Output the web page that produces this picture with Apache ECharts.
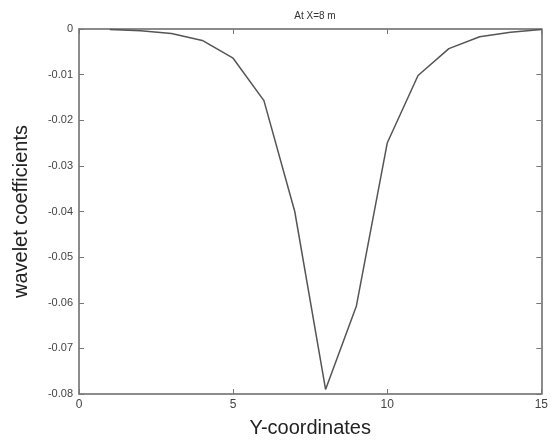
<!DOCTYPE html>
<html>
<head>
<meta charset="utf-8">
<script src="https://cdn.jsdelivr.net/npm/echarts@6/dist/echarts.min.js"></script>
<style>html,body{margin:0;padding:0;background:#fff;}#c{width:551px;height:443px;}</style>
</head>
<body>
<div id="c"></div>
<script>
var yCoords = [1, 2, 3, 4, 5, 6, 7, 8, 9, 10, 11, 12, 13, 14, 15];
var coeffs = [-0.0001, -0.0004, -0.001, -0.0025, -0.0064, -0.0157, -0.040, -0.079, -0.0607, -0.025, -0.0102, -0.0043, -0.0017, -0.0007, -0.0001];
var titleText = 'At X=8 m';
var xName = 'Y-coordinates';
var yName = 'wavelet coefficients';

var chart = echarts.init(document.getElementById('c'));
var axisLine = {show: true, onZero: false, lineStyle: {color: '#666', width: 1.5}};
var tick = {show: true, inside: true, length: 5, lineStyle: {color: '#777', width: 1}};
var font = 'Liberation Sans, Arial, sans-serif';
chart.setOption({
  animation: false,
  backgroundColor: '#fff',
  title: {text: titleText, left: 310, top: 6, textAlign: 'center',
    textStyle: {fontSize: 10, fontWeight: 'normal', color: '#333', fontFamily: font}},
  grid: {left: 79, right: 9, top: 29, bottom: 48},
  xAxis: [{
    type: 'value', min: 0, max: 15, interval: 5, position: 'bottom',
    name: xName, nameLocation: 'middle', nameGap: 24,
    nameTextStyle: {fontSize: 20, color: '#222', fontFamily: font},
    axisLine: axisLine, axisTick: tick, splitLine: {show: false},
    axisLabel: {color: '#444', fontSize: 12, margin: 5, fontFamily: font}
  }, {
    type: 'value', min: 0, max: 15, interval: 5, position: 'top',
    axisLine: axisLine, axisTick: tick, splitLine: {show: false}, axisLabel: {show: false}
  }],
  yAxis: [{
    type: 'value', min: -0.08, max: 0, interval: 0.01, position: 'left',
    name: yName, nameLocation: 'middle', nameGap: 48,
    nameTextStyle: {fontSize: 20, color: '#222', fontFamily: font},
    axisLine: axisLine, axisTick: tick, splitLine: {show: false},
    axisLabel: {color: '#444', fontSize: 11, margin: 6, fontFamily: font,
      formatter: function (v) { return v === 0 ? '0' : String(Math.round(v * 100) / 100); }}
  }, {
    type: 'value', min: -0.08, max: 0, interval: 0.01, position: 'right',
    axisLine: axisLine, axisTick: tick, splitLine: {show: false}, axisLabel: {show: false}
  }],
  series: [{
    type: 'line', xAxisIndex: 0, yAxisIndex: 0,
    data: yCoords.map(function (x, i) { return [x, coeffs[i]]; }),
    showSymbol: false, symbol: 'none',
    lineStyle: {color: '#555', width: 1.5}
  }]
});
</script>
</body>
</html>
